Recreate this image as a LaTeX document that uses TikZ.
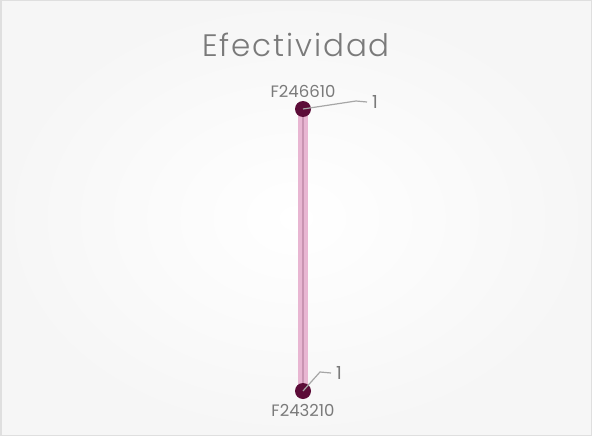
\documentclass[tikz,border=0pt]{standalone}
\usepackage{fontspec}
\setmainfont{Poppins}
\newfontfamily\titlefont[LetterSpace=6]{Poppins Light}
\usetikzlibrary{positioning}
\definecolor{dotred}{HTML}{5C0C38}
\definecolor{barpink}{HTML}{E8B6D2}
\definecolor{barline}{HTML}{C994B2}
\definecolor{txtgray}{HTML}{7A7A7A}
\tikzset{
  dot/.style={circle, fill=dotred, minimum size=16pt, inner sep=0pt},
  idlabel/.style={text=txtgray, font=\fontsize{16.5}{16.5}\selectfont, inner sep=1pt},
  vallabel/.style={text=txtgray, font=\fontsize{18}{18}\selectfont, inner sep=5pt},
  leader/.style={draw=gray!70, line width=1.2pt}
}
\begin{document}
\begin{tikzpicture}[x=1pt, y=-1pt]

\useasboundingbox (0,0) rectangle (592,436);
\shade[inner color=white, outer color=gray!7] (0,0) rectangle (592,436);
\draw[gray!25, line width=1.5pt] (0.75,0.75) rectangle (591.25,435.25);

\node[text=txtgray, font=\titlefont\fontsize{31}{31}\selectfont] (title) at (296,45) {Efectividad};

% bar
\draw[barpink, line width=10pt] (303,109) -- (303,391);
\draw[barline, line width=2pt] (303,109) -- (303,391);

\node[dot] (top) at (303,109) {};
\node[dot] (bot) at (303,391) {};

\node[idlabel] (topid) at (303,91) {F246610};
\node[idlabel] (botid) at (303,410) {F243210};

% leader lines
\coordinate (topbend) at (356,101);
\node[vallabel, anchor=west] (topval) at (367,102) {1};
\draw[leader] (top.center) -- (topbend) -- (topval.west);

\coordinate (botbend) at (320,372);
\node[vallabel, anchor=west] (botval) at (331,373) {1};
\draw[leader] (bot.center) -- (botbend) -- (botval.west);

\end{tikzpicture}
\end{document}
